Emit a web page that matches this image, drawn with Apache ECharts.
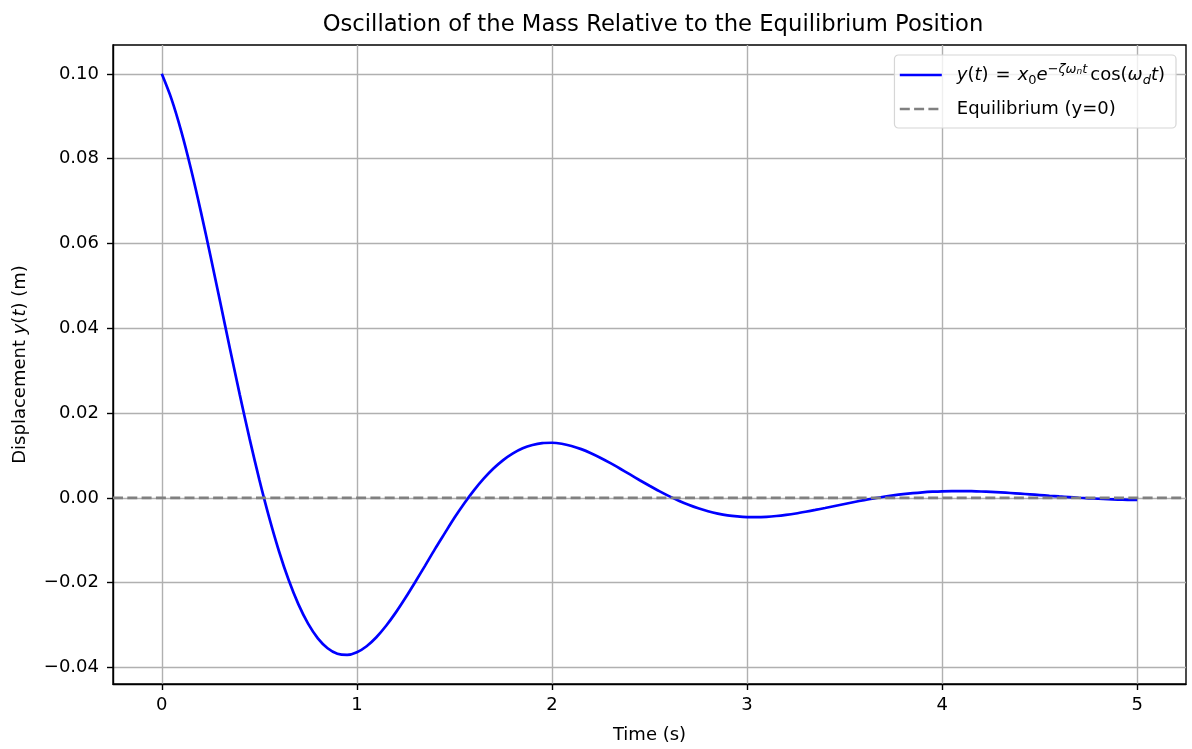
<!DOCTYPE html>
<html>
<head>
<meta charset="utf-8">
<script src="https://cdn.jsdelivr.net/npm/echarts@6/dist/echarts.min.js"></script>
<style>
html,body{margin:0;padding:0;background:#fff;}
#chart{width:1192px;height:749px;}
</style>
</head>
<body>
<div id="chart"></div>
<script>
// Time samples (s)
const timeValues = [0.00,0.05,0.10,0.15,0.20,0.25,0.30,0.35,0.40,0.45,0.50,0.55,0.60,0.65,0.70,0.75,0.80,0.85,0.90,0.95,
  1.00,1.05,1.10,1.15,1.20,1.25,1.30,1.35,1.40,1.45,1.50,1.55,1.60,1.65,1.70,1.75,1.80,1.85,1.90,1.95,
  2.00,2.05,2.10,2.15,2.20,2.25,2.30,2.35,2.40,2.45,2.50,2.55,2.60,2.65,2.70,2.75,2.80,2.85,2.90,2.95,
  3.00,3.05,3.10,3.15,3.20,3.25,3.30,3.35,3.40,3.45,3.50,3.55,3.60,3.65,3.70,3.75,3.80,3.85,3.90,3.95,
  4.00,4.05,4.10,4.15,4.20,4.25,4.30,4.35,4.40,4.45,4.50,4.55,4.60,4.65,4.70,4.75,4.80,4.85,4.90,4.95,5.00];
// Displacement values (m)
const displacementValues = [0.1,0.09405,0.08644,0.07750,0.06757,0.05698,0.04605,0.03506,0.02429,0.01396,
  0.00429,-0.00456,-0.01247,-0.01933,-0.02507,-0.02967,-0.03313,-0.03546,-0.03676,-0.03704,
  -0.03642,-0.03499,-0.03287,-0.03017,-0.02701,-0.02351,-0.01978,-0.01597,-0.01209,-0.00838,
  -0.00470,-0.00132,0.00177,0.00452,0.00691,0.00890,0.01049,0.01170,0.01248,0.01292,
  0.01299,0.01276,0.01224,0.01149,0.01053,0.00941,0.00818,0.00687,0.00552,0.00416,
  0.00285,0.00158,0.00040,-0.00068,-0.00164,-0.00247,-0.00316,-0.00371,-0.00413,-0.00439,
  -0.00454,-0.00456,-0.00447,-0.00428,-0.00401,-0.00368,-0.00328,-0.00285,-0.00239,-0.00191,
  -0.00144,-0.00098,-0.00053,-0.00012,0.00026,0.00059,0.00088,0.00112,0.00131,0.00145,
  0.00155,0.00159,0.00160,0.00157,0.00150,0.00140,0.00128,0.00114,0.00099,0.00083,
  0.00066,0.00049,0.00033,0.00018,0.00003,-0.00010,-0.00021,-0.00031,-0.00040,-0.00046,-0.00051];
// Equilibrium level
const equilibriumValue = 0;
// Axis limits and ticks
const xLimits = [-0.25, 5.25];
const yLimits = [-0.0439, 0.1068];
const xTicks = [0, 1, 2, 3, 4, 5];
const yTicks = [-0.04, -0.02, 0.00, 0.02, 0.04, 0.06, 0.08, 0.10];
// Texts
const titleText = 'Oscillation of the Mass Relative to the Equilibrium Position';
const xAxisTitle = 'Time (s)';
const yAxisTitle = 'Displacement {i|y}({i|t}) (m)';
const seriesNames = ['y(t) = x0 e^(-ζωn t) cos(ωd t)', 'Equilibrium (y=0)'];

const FONT = 'DejaVu Sans';
const FS = 18;
const chart = echarts.init(document.getElementById('chart'), null, {renderer: 'canvas'});

const curveData = timeValues.map((t, i) => [t, displacementValues[i]]);
const eqData = xLimits.map(x => [x, equilibriumValue]);

const fmtY = v => {
  const s = Math.abs(v).toFixed(2);
  return (v < -1e-9 ? '\u2212' : '') + s;
};

chart.setOption({
  animation: false,
  backgroundColor: '#ffffff',
  textStyle: {fontFamily: FONT},
  title: {
    text: titleText,
    left: 648,
    textAlign: 'center',
    top: 9,
    textStyle: {fontFamily: FONT, fontSize: 22.7, fontWeight: 'normal', color: '#000'}
  },
  grid: {
    left: 113, right: 6, top: 45, bottom: 64,
    show: true, borderColor: '#000', borderWidth: 1.4, backgroundColor: 'transparent'
  },
  legend: {
    orient: 'vertical',
    right: 16,
    top: 55,
    padding: [8, 11, 10, 4],
    itemGap: 13,
    itemWidth: 42,
    itemHeight: 14,
    borderColor: '#d6d6d6',
    borderWidth: 1.2,
    borderRadius: 4,
    backgroundColor: 'rgba(255,255,255,0.8)',
    itemStyle: {color: 'rgba(0,0,0,0)', borderColor: 'rgba(0,0,0,0)', borderWidth: 0},
    lineStyle: {width: 2.7},
    data: seriesNames,
    formatter: function (name) {
      if (name === seriesNames[0]) {
        return '{i|y}{r|(}{i|t}{r|)}{eq|=}{i|x}{sub|0}{i|e}{sup|\u2212\u03b6\u03c9}{supsub|n}{sup|t}{cos|cos(}{i|\u03c9}{subi|d}{i|t}{r|)}';
      }
      return '{r|' + name + '}';
    },
    textStyle: {
      fontFamily: FONT, fontSize: FS, color: '#000', padding: [0, 0, 0, 10],
      rich: {
        r: {fontFamily: FONT, fontSize: FS, color: '#000', lineHeight: 24, verticalAlign: 'middle'},
        eq: {fontFamily: FONT, fontSize: FS, color: '#000', lineHeight: 24, verticalAlign: 'middle', padding: [0, 7, 0, 7]},
        cos: {fontFamily: FONT, fontSize: FS, color: '#000', lineHeight: 24, verticalAlign: 'middle', padding: [0, 0, 0, 3]},
        i: {fontFamily: FONT, fontSize: FS, fontStyle: 'italic', color: '#000', lineHeight: 24, verticalAlign: 'middle'},
        sub: {fontFamily: FONT, fontSize: 13, color: '#000', lineHeight: 14, verticalAlign: 'bottom'},
        subi: {fontFamily: FONT, fontSize: 13, fontStyle: 'italic', color: '#000', lineHeight: 14, verticalAlign: 'bottom'},
        sup: {fontFamily: FONT, fontSize: 13, fontStyle: 'italic', color: '#000', lineHeight: 14, verticalAlign: 'top'},
        supsub: {fontFamily: FONT, fontSize: 9, fontStyle: 'italic', color: '#000', lineHeight: 14, verticalAlign: 'top', padding: [4, 0, 0, 0]}
      }
    }
  },
  xAxis: {
    type: 'value',
    min: xLimits[0],
    max: xLimits[1],
    name: xAxisTitle,
    nameLocation: 'middle',
    nameGap: 42,
    nameTextStyle: {fontFamily: FONT, fontSize: FS, color: '#000'},
    axisLine: {show: true, onZero: false, lineStyle: {color: '#000', width: 1.4}},
    axisTick: {show: true, length: 6, lineStyle: {color: '#000', width: 1.4}, customValues: xTicks},
    axisLabel: {show: true, margin: 12, fontFamily: FONT, fontSize: FS, color: '#000', customValues: xTicks,
      formatter: v => String(Math.round(v))},
    splitLine: {show: true, lineStyle: {color: '#b0b0b0', width: 1.4}}
  },
  yAxis: {
    type: 'value',
    min: yLimits[0],
    max: yLimits[1],
    name: yAxisTitle,
    nameLocation: 'middle',
    nameGap: 84,
    nameRotate: 90,
    nameTextStyle: {fontFamily: FONT, fontSize: FS, color: '#000',
      rich: {i: {fontFamily: FONT, fontSize: FS, fontStyle: 'italic', color: '#000'}}},
    axisLine: {show: true, onZero: false, lineStyle: {color: '#000', width: 1.4}},
    axisTick: {show: true, length: 6, lineStyle: {color: '#000', width: 1.4}, customValues: yTicks},
    axisLabel: {show: true, margin: 14, fontFamily: FONT, fontSize: FS, color: '#000', customValues: yTicks,
      formatter: fmtY},
    splitLine: {show: true, lineStyle: {color: '#b0b0b0', width: 1.4}}
  },
  series: [
    {
      name: seriesNames[0],
      type: 'line',
      data: curveData,
      smooth: 0.3,
      smoothConstraint: false,
      showSymbol: false,
      symbol: 'none',
      lineStyle: {color: '#0000ff', width: 2.7},
      itemStyle: {color: '#0000ff'},
      z: 2
    },
    {
      name: seriesNames[1],
      type: 'line',
      data: eqData,
      showSymbol: false,
      symbol: 'none',
      lineStyle: {color: '#808080', width: 2.7, type: [10, 4.3]},
      itemStyle: {color: '#808080'},
      z: 3
    }
  ]
});
</script>
</body>
</html>
